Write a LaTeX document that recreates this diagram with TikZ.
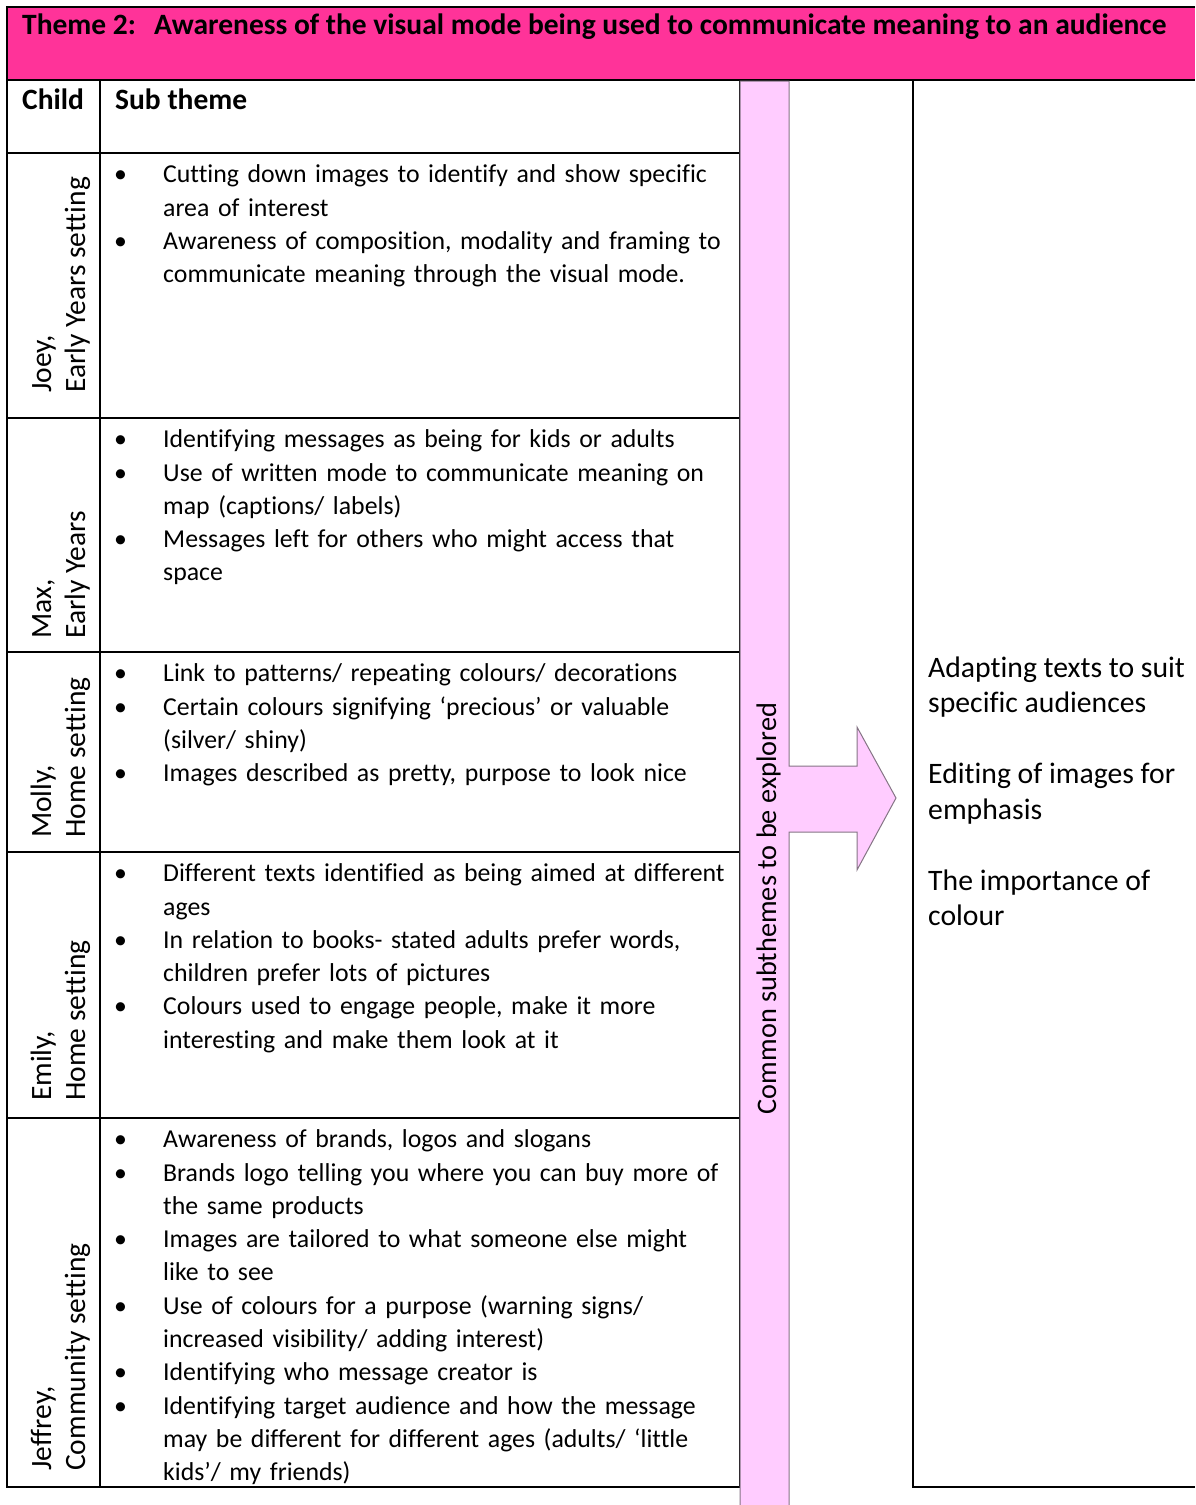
\documentclass[tikz,border=0pt]{standalone}
\usepackage{fontspec}
\setmainfont{Carlito}[Ligatures=NoCommon]
\usepackage{enumitem}
\usepackage{xcolor}
\usetikzlibrary{positioning}
\definecolor{themepink}{HTML}{FF3399}
\definecolor{barpink}{HTML}{FFCCFF}
\definecolor{bargrey}{HTML}{857585}

\setlist[itemize]{label=\textbullet, leftmargin=63pt, labelwidth=49pt, labelsep=0pt,
    align=left, topsep=0pt, partopsep=0pt, itemsep=0pt, parsep=0pt}

\begin{document}
\begin{tikzpicture}[x=1pt, y=-1pt,
    gridline/.style={line width=1.6pt, black},
    headtxt/.style={anchor=base west, inner sep=0pt, font=\fontsize{29.5}{34}\selectfont\bfseries},
    childname/.style={rotate=90, anchor=north west, align=left, inner sep=0pt,
        font=\fontsize{29.5}{34}\selectfont},
    sublist/.style={anchor=north west, inner sep=0pt, text width=700pt,
        font=\fontsize{25.8}{33.3}\selectfont},
    barshape/.style={fill=barpink, draw=bargrey, line width=1pt},
    outtxt/.style={anchor=north west, align=left, inner sep=0pt,
        font=\fontsize{29.7}{35.5}\selectfont}
]
    \useasboundingbox (0,0) rectangle (1195,1505);

    % === header band ===
    \fill[themepink] (7,7) rectangle (1195,80);
    \node[headtxt] (title) at (22,34) {Theme 2:\hspace{18pt}Awareness of the visual mode being used to communicate meaning to an audience};

    % === table grid ===
    \draw[gridline] (1195,7) -- (7,7) -- (7,1487) -- (740,1487);
    \draw[gridline] (7,80) -- (1195,80);
    \draw[gridline] (100,80) -- (100,1487);
    \foreach \ry in {153,418,652,852,1118}
        \draw[gridline] (7,\ry) -- (740,\ry);
    \draw[gridline] (740,80) -- (740,1487);
    \draw[gridline] (913,80) -- (913,1487) -- (1195,1487);

    % --- column heads ---
    \node[headtxt] (childhead) at (22,109) {Child};
    \node[headtxt] (subhead) at (115,109) {Sub theme};

    % === children (rotated) ===
    \node[childname] (joey) at (27.2,393) {\strut Joey,\\Early Years setting};
    \node[childname] (max) at (27.2,639) {\strut Max,\\Early Years};
    \node[childname] (molly) at (27.2,838) {\strut Molly,\\Home setting};
    \node[childname] (emily) at (27.2,1101) {\strut Emily,\\Home setting};
    \node[childname] (jeffrey) at (27.2,1471) {\strut Jeffrey,\\Community setting};

    % === sub themes ===
    \node[sublist] (joeylist) at (100,149.2) {\begin{itemize}
        \item\strut Cutting down images to identify and show specific\\area of interest
        \item Awareness of composition, modality and framing to\\communicate meaning through the visual mode.
    \end{itemize}};
    \node[sublist] (maxlist) at (100,414.2) {\begin{itemize}
        \item\strut Identifying messages as being for kids or adults
        \item Use of written mode to communicate meaning on\\map (captions/ labels)
        \item Messages left for others who might access that\\space
    \end{itemize}};
    \node[sublist] (mollylist) at (100,648.2) {\begin{itemize}
        \item\strut Link to patterns/ repeating colours/ decorations
        \item Certain colours signifying ‘precious’ or valuable\\(silver/ shiny)
        \item Images described as pretty, purpose to look nice
    \end{itemize}};
    \node[sublist] (emilylist) at (100,848.2) {\begin{itemize}
        \item\strut Different texts identified as being aimed at different\\ages
        \item In relation to books- stated adults prefer words,\\children prefer lots of pictures
        \item Colours used to engage people, make it more\\interesting and make them look at it
    \end{itemize}};
    \node[sublist] (jeffreylist) at (100,1114.2) {\begin{itemize}
        \item\strut Awareness of brands, logos and slogans
        \item Brands logo telling you where you can buy more of\\the same products
        \item Images are tailored to what someone else might\\like to see
        \item Use of colours for a purpose (warning signs/\\increased visibility/ adding interest)
        \item Identifying who message creator is
        \item Identifying target audience and how the message\\may be different for different ages (adults/ ‘little\\kids’/ my friends)
    \end{itemize}};

    % === common subthemes bar + arrow ===
    \draw[barshape] (740,81) -- (789,81) -- (789,766) -- (857,766) -- (857,727)
        -- (896,798) -- (857,870) -- (857,832) -- (789,832) -- (789,1506)
        -- (740,1506) -- cycle;
    \node[rotate=90, anchor=base, inner sep=0pt, font=\fontsize{28.3}{34}\selectfont]
        (common) at (776,908.5) {Common subthemes to be explored};

    % === outcomes ===
    \node[outtxt] (outcomes) at (928,652) {\strut Adapting texts to suit\\specific audiences\\[35.5pt]
        Editing of images for\\emphasis\\[35.5pt]
        The importance of\\colour};
\end{tikzpicture}
\end{document}
